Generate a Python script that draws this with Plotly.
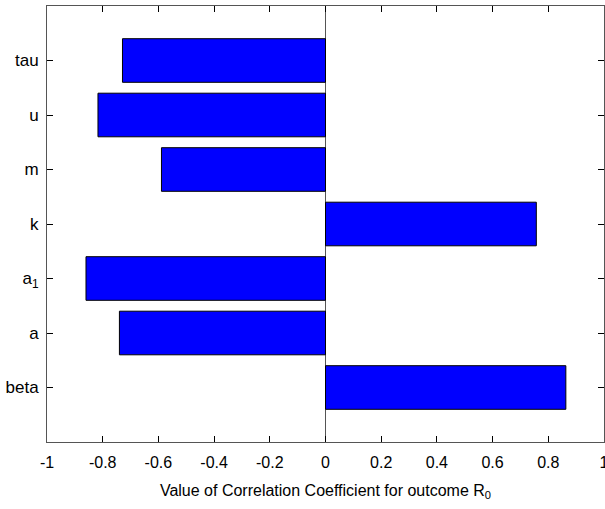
import plotly.graph_objects as go

categories = ["beta", "a", "a<sub>1</sub>", "k", "m", "u", "tau"]
values = [0.863, -0.740, -0.860, 0.757, -0.589, -0.817, -0.729]
x_tick_vals = [-1, -0.8, -0.6, -0.4, -0.2, 0, 0.2, 0.4, 0.6, 0.8, 1]
x_tick_text = ["-1", "-0.8", "-0.6", "-0.4", "-0.2", "0", "0.2", "0.4", "0.6", "0.8", "1"]

fig = go.Figure(go.Bar(
    x=values, y=categories, orientation="h", width=0.8,
    marker=dict(color="#0000FF", line=dict(color="#000000", width=1)),
))

font = dict(family="Liberation Sans, Arial, sans-serif", size=16, color="#000")
fig.update_layout(
    width=605, height=509,
    margin=dict(l=47, r=1, t=6, b=67),
    plot_bgcolor="white", paper_bgcolor="white",
    font=font, showlegend=False, bargap=0.2,
)
fig.update_xaxes(
    range=[-1, 1], tickvals=x_tick_vals, ticktext=x_tick_text,
    ticks="inside", ticklen=6, tickcolor="#000", mirror="ticks",
    showline=True, linecolor="#555", linewidth=1, showgrid=False,
    zeroline=True, zerolinecolor="#555", zerolinewidth=1,
    tickfont=dict(size=16), automargin=False, ticklabelstandoff=6,
    ticklabeloverflow="allow",
    title=dict(text="Value of Correlation Coefficient for outcome R<sub>0</sub>",
               font=dict(size=16), standoff=14),
)
fig.update_yaxes(
    type="category", range=[-1, 7],
    ticks="inside", ticklen=6, tickcolor="#000", mirror="ticks",
    showline=True, linecolor="#555", linewidth=1, showgrid=False,
    tickfont=dict(size=17), ticklabelstandoff=4, automargin=False,
)
fig.write_html("out.html", config={"displayModeBar": False},
               post_script="document.body.style.margin='0';")
